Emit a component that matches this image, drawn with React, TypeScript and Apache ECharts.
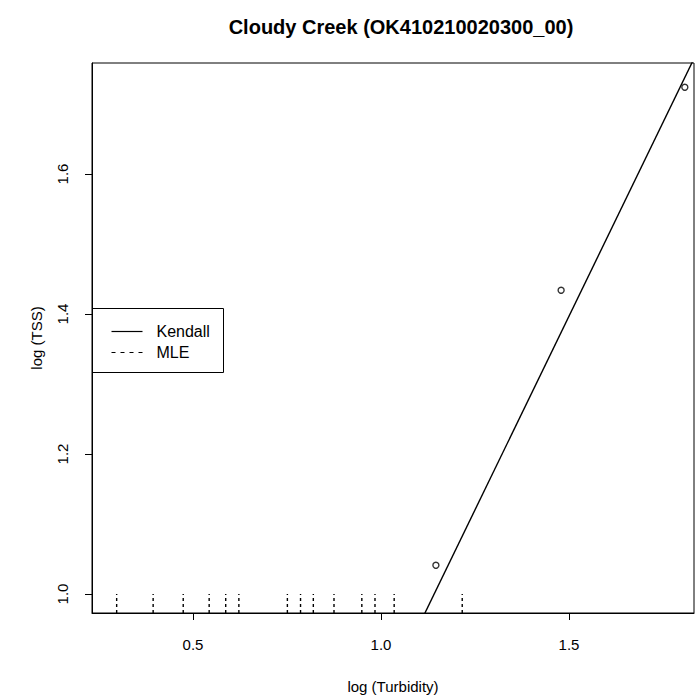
import React, { useEffect, useRef } from "react";
import * as echarts from "echarts";

const titleText = "Cloudy Creek (OK410210020300_00)";
const xAxisName = "log (Turbidity)";
const yAxisName = "log (TSS)";

const xTicks = [0.5, 1.0, 1.5];
const yTicks = [1.0, 1.2, 1.4, 1.6];
const xRange = [0.2314, 1.8324];
const yRange = [0.9729, 1.7586];

// uncensored observations (log Turbidity, log TSS)
const obsX = [1.146, 1.479, 1.808];
const obsY = [1.041, 1.434, 1.724];

// censored observations: log Turbidity, drawn up to the detection limit
const censX = [0.297, 0.394, 0.474, 0.543, 0.587, 0.622, 0.751, 0.786, 0.82, 0.875, 0.949, 0.984, 1.035, 1.216];
const censLimit = 1.0;

// Kendall line: y = intercept + slope * x
const kendallIntercept = -0.2635;
const kendallSlope = 1.107;

const legendNames = ["Kendall", "MLE"];

const FONT = "Liberation Sans";

export default function App() {
  const ref = useRef<HTMLDivElement>(null);
  useEffect(() => {
    if (!ref.current) return;
    const chart = echarts.init(ref.current, undefined, { renderer: "svg" });
    const kendallData = xRange.map((x) => [x, kendallIntercept + kendallSlope * x]);
    const option: any = {
      animation: false,
      backgroundColor: "#ffffff",
      textStyle: { fontFamily: FONT, color: "#000" },
      title: {
        text: titleText,
        left: 396,
        top: 12,
        textAlign: "center",
        textStyle: { fontFamily: FONT, fontWeight: "bold", fontSize: 20, color: "#000" },
      },
      grid: {
        left: 92,
        top: 63,
        width: 602,
        height: 550,
        show: true,
        borderColor: "#000",
        borderWidth: 1,
        backgroundColor: "transparent",
      },
      xAxis: {
        type: "value",
        min: xRange[0],
        max: xRange[1],
        name: xAxisName,
        nameLocation: "middle",
        nameGap: 66,
        nameTextStyle: { fontFamily: FONT, fontSize: 15, color: "#000" },
        axisLine: { show: true, lineStyle: { color: "#000", width: 1 } },
        axisTick: { show: true, length: 7, inside: false, customValues: xTicks, lineStyle: { color: "#000" } },
        axisLabel: {
          customValues: xTicks,
          formatter: (v: number) => v.toFixed(1),
          margin: 24,
          fontFamily: FONT,
          fontSize: 15,
          color: "#000",
        },
        splitLine: { show: false },
      },
      yAxis: {
        type: "value",
        min: yRange[0],
        max: yRange[1],
        name: yAxisName,
        nameLocation: "middle",
        nameGap: 48,
        nameRotate: 90,
        nameTextStyle: { fontFamily: FONT, fontSize: 15, color: "#000" },
        axisLine: { show: true, lineStyle: { color: "#000", width: 1 } },
        axisTick: { show: true, length: 7, inside: false, customValues: yTicks, lineStyle: { color: "#000" } },
        axisLabel: {
          customValues: yTicks,
          formatter: (v: number) => v.toFixed(1),
          rotate: 90,
          margin: 22,
          fontFamily: FONT,
          fontSize: 15,
          color: "#000",
        },
        splitLine: { show: false },
      },
      series: [
        {
          name: "Kendall",
          type: "line",
          data: kendallData,
          symbol: "none",
          clip: true,
          lineStyle: { color: "#000", width: 1.4 },
          z: 3,
        },
        {
          name: "MLE",
          type: "custom",
          clip: true,
          data: censX.map((x) => [x, yRange[0], censLimit]),
          encode: { x: 0, y: [1, 2] },
          renderItem: (params: any, api: any) => {
            const p0 = api.coord([api.value(0), api.value(1)]);
            const p1 = api.coord([api.value(0), api.value(2)]);
            return {
              type: "line",
              shape: { x1: p0[0], y1: p0[1], x2: p1[0], y2: p1[1] },
              style: { stroke: "#000", lineWidth: 1.4, lineDash: [3, 3], fill: null },
            };
          },
          z: 2,
        },
        {
          name: "obs",
          type: "scatter",
          data: obsX.map((x, i) => [x, obsY[i]]),
          symbol: "circle",
          symbolSize: 6,
          itemStyle: { color: "transparent", borderColor: "#000", borderWidth: 1.4 },
          z: 4,
        },
      ],
      graphic: [
        {
          type: "group",
          left: 92,
          top: 308,
          children: [
            { type: "rect", shape: { x: 0, y: 0, width: 131, height: 64 }, style: { fill: "#fff", stroke: "#000", lineWidth: 1 } },
            { type: "line", shape: { x1: 19, y1: 23, x2: 50, y2: 23 }, style: { stroke: "#000", lineWidth: 1.2 } },
            { type: "line", shape: { x1: 19, y1: 44, x2: 50, y2: 44 }, style: { stroke: "#000", lineWidth: 1.2, lineDash: [4, 5] } },
            { type: "text", x: 64, y: 23, style: { text: legendNames[0], fontFamily: FONT, fontSize: 16, fill: "#000", textVerticalAlign: "middle", verticalAlign: "middle" } },
            { type: "text", x: 64, y: 44, style: { text: legendNames[1], fontFamily: FONT, fontSize: 16, fill: "#000", textVerticalAlign: "middle", verticalAlign: "middle" } },
          ],
        },
      ],
    };
    chart.setOption(option);
    return () => chart.dispose();
  }, []);
  return <div ref={ref} style={{ position: "fixed", left: 0, top: 0, width: 698, height: 700 }} />;
}
